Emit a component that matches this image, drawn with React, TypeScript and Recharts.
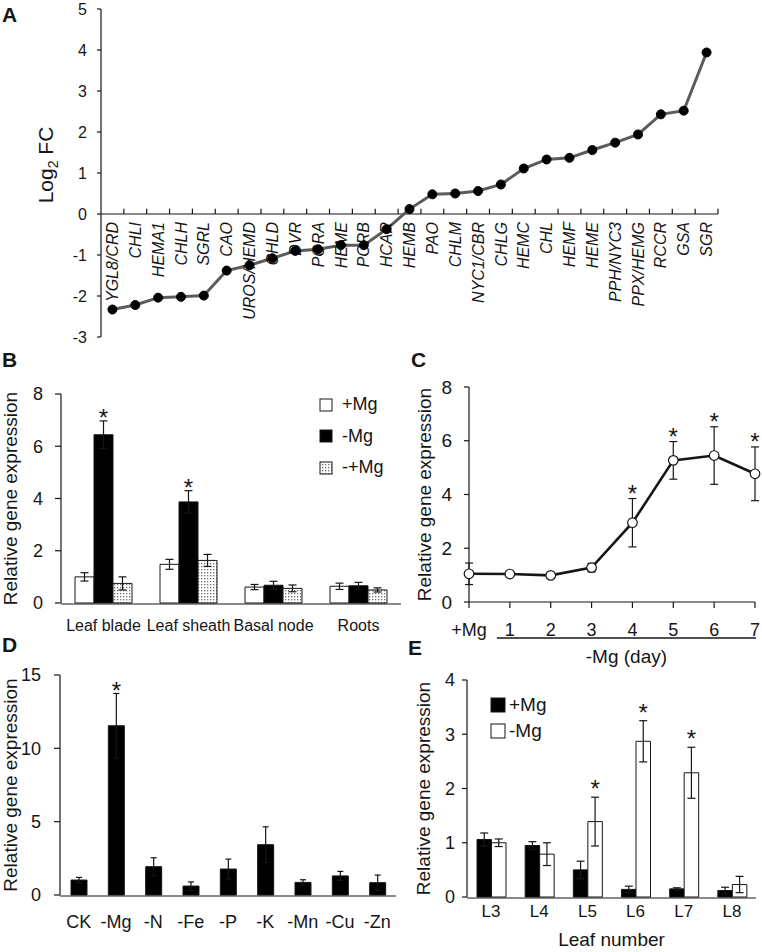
import React from "react";
import {
  LineChart,
  Line,
  BarChart,
  Bar,
  XAxis,
  YAxis,
  ErrorBar,
  LabelList,
  ReferenceLine,
  ReferenceDot,
  Legend,
} from "recharts";

const FONT = "'Liberation Sans', Arial, sans-serif";
const INK = "#161616";

// A: log2 fold change of chlorophyll genes
const genes = [
  "YGL8/CRD", "CHLI", "HEMA1", "CHLH", "SGRL", "CAO", "UROS/HEMD", "CHLD", "DVR",
  "PORA", "HEME", "PORB", "HCAR", "HEMB", "PAO", "CHLM", "NYC1/CBR", "CHLG", "HEMC",
  "CHL", "HEMF", "HEME", "PPH/NYC3", "PPX/HEMG", "RCCR", "GSA", "SGR",
];
const log2fc = [
  -2.33, -2.22, -2.04, -2.02, -1.99, -1.38, -1.25, -1.08, -0.9,
  -0.86, -0.76, -0.76, -0.37, 0.12, 0.48, 0.5, 0.56, 0.72, 1.11,
  1.33, 1.37, 1.56, 1.74, 1.94, 2.43, 2.52, 3.94,
];
const aTicks = [-3, -2, -1, 0, 1, 2, 3, 4, 5];

// B: tissues
const bTissues = ["Leaf blade", "Leaf sheath", "Basal node", "Roots"];
const bPlus = [1.0, 1.48, 0.61, 0.64];
const bPlusErr = [0.16, 0.19, 0.1, 0.12];
const bMinus = [6.44, 3.87, 0.68, 0.66];
const bMinusErr = [0.53, 0.43, 0.15, 0.13];
const bResupply = [0.75, 1.63, 0.56, 0.5];
const bResupplyErr = [0.25, 0.23, 0.13, 0.08];
const bStar = [true, true, false, false];
const bTicks = [0, 2, 4, 6, 8];

// C: time course
const cDays = ["+Mg", "1", "2", "3", "4", "5", "6", "7"];
const cMean = [1.05, 1.04, 0.99, 1.28, 2.95, 5.27, 5.45, 4.77];
const cErr = [0.4, 0.08, 0.06, 0.16, 0.9, 0.7, 1.07, 1.0];
const cStar = [false, false, false, false, true, true, true, true];
const cTicks = [0, 2, 4, 6, 8];

// D: nutrient deficiencies
const dTreat = ["CK", "-Mg", "-N", "-Fe", "-P", "-K", "-Mn", "-Cu", "-Zn"];
const dMean = [1.02, 11.54, 1.93, 0.61, 1.77, 3.43, 0.86, 1.3, 0.84];
const dErr = [0.18, 2.2, 0.61, 0.28, 0.68, 1.22, 0.18, 0.31, 0.52];
const dStar = [false, true, false, false, false, false, false, false, false];
const dTicks = [0, 5, 10, 15];

// E: leaf position
const eLeaves = ["L3", "L4", "L5", "L6", "L7", "L8"];
const ePlus = [1.06, 0.95, 0.5, 0.14, 0.15, 0.12];
const ePlusErr = [0.12, 0.07, 0.16, 0.06, 0.02, 0.06];
const eMinus = [1.0, 0.79, 1.39, 2.87, 2.29, 0.23];
const eMinusErr = [0.07, 0.21, 0.45, 0.38, 0.47, 0.15];
const eStar = [false, false, true, true, true, false];
const eTicks = [0, 1, 2, 3, 4];

const aData = genes.map((g, i) => ({ pos: i + 0.5, gene: g, fc: log2fc[i] }));
const bData = bTissues.map((t, i) => ({
  name: t,
  plus: bPlus[i], plusErr: bPlusErr[i],
  minus: bMinus[i], minusErr: bMinusErr[i],
  resupply: bResupply[i], resupplyErr: bResupplyErr[i],
}));
const cData = cDays.map((d, i) => ({ day: d, mean: cMean[i], err: cErr[i] }));
const dData = dTreat.map((t, i) => ({ name: t, mean: dMean[i], err: dErr[i] }));
const eData = eLeaves.map((l, i) => ({
  name: l,
  plus: ePlus[i], plusErr: ePlusErr[i],
  minus: eMinus[i], minusErr: eMinusErr[i],
}));

const range = (n: number) => Array.from({ length: n + 1 }, (_, i) => i);
const tickFont = (size: number) => ({ fill: INK, fontSize: size, fontFamily: FONT });
const line = { stroke: INK, strokeWidth: 1.2 };

const yTitle = (cx: number, size = 19) => (p: any) => {
  const vb = p.viewBox || { y: 0, height: 0 };
  const cy = vb.y + vb.height / 2;
  return (
    <text transform={`translate(${cx},${cy}) rotate(-90)`} textAnchor="middle"
      fontSize={size} fontFamily={FONT} fill={INK}>
      Relative gene expression
    </text>
  );
};

// asterisk above error bar of a bar; scale
const barStar = (errs: number[], stars: boolean[], lift: number, size: number) => (p: any) => {
  const i = p.index;
  if (!stars[i]) return null;
  const vb = p.viewBox || p;
  const v = Number(p.value);
  const top = vb.y - errs[i] * (vb.height / v);
  return (
    <text x={vb.x + vb.width / 2} y={top + lift} textAnchor="middle" fontSize={size}
      fontFamily={FONT} fill={INK}>*</text>
  );
};

const dotStar = (p: any) => {
  const vb = p.viewBox || { x: 0, y: 0 };
  return (
    <text x={vb.x} y={vb.y + 3} textAnchor="middle" fontSize={24} fontFamily={FONT} fill={INK}>*</text>
  );
};

const geneLabel = (name: string) => (p: any) => {
  const vb = p.viewBox || { x: 0, y: 0 };
  return (
    <text transform={`translate(${vb.x},${vb.y + 8}) rotate(-90)`} textAnchor="end" dy="0.35em"
      fontSize={16} fontStyle="italic" fontFamily={FONT} fill={INK}>
      {name}
    </text>
  );
};

const legendBox = (items: { name: string; fill: string }[], box: number, rowH: number, fs: number, gap: number) => () => (
  <div style={{ fontFamily: FONT, fontSize: fs, color: INK }}>
    {items.map((it) => (
      <div key={it.name} style={{ display: "flex", alignItems: "center", height: rowH, whiteSpace: "nowrap" }}>
        <svg width={box + 2} height={box + 2} style={{ marginRight: gap }}>
          <rect x={1} y={1} width={box} height={box} fill={it.fill} stroke={INK} strokeWidth={1} />
        </svg>
        <span>{it.name}</span>
      </div>
    ))}
  </div>
);

const PanelA = () => (
  <LineChart width={740} height={345} data={aData} margin={{ top: 9, right: 22, bottom: 8, left: 41 }}>
    <XAxis type="number" dataKey="pos" domain={[0, genes.length]} hide />
    <YAxis width={60} domain={[-3, 5]} ticks={aTicks} interval={0} tickSize={4} tickMargin={10}
      tick={tickFont(16)} axisLine={line} tickLine={line}
      label={() => (
        <text transform="translate(53,165) rotate(-90)" textAnchor="middle" fontSize={21}
          fontFamily={FONT} fill={INK}>
          Log<tspan fontSize={14} dy={5}>2</tspan><tspan dy={-5}> FC</tspan>
        </text>
      )} />
    <ReferenceLine y={0} stroke={INK} strokeWidth={1.2} />
    {range(genes.length).slice(1).map((k) => (
      <ReferenceLine key={`tk${k}`} segment={[{ x: k, y: 0 }, { x: k, y: 0.13 }]} stroke={INK} strokeWidth={1.2} />
    ))}
    {genes.map((g, i) => (
      <ReferenceDot key={`g${i}`} x={i + 0.5} y={0} r={0} fill="none" stroke="none" label={geneLabel(g)} />
    ))}
    <Line dataKey="fc" stroke="#5b5b5b" strokeWidth={3}
      dot={{ r: 4.5, fill: "#000", stroke: "#000", strokeWidth: 1 }} isAnimationActive={false} />
  </LineChart>
);

const PanelB = () => (
  <BarChart width={410} height={260} data={bData} barGap={0}
    margin={{ top: 14, right: 9, bottom: 35, left: 26 }}>
    <defs>
      <pattern id="dots" width="3" height="3" patternUnits="userSpaceOnUse">
        <rect width="3" height="3" fill="#fff" />
        <rect width="1.3" height="1.3" fill="#6e6e6e" />
      </pattern>
    </defs>
    <XAxis xAxisId="edge" type="number" domain={[0, bTissues.length]} ticks={range(bTissues.length)}
      allowDataOverflow height={1} tick={false} tickSize={5} tickLine={line} axisLine={line} />
    <XAxis xAxisId="cat" dataKey="name" height={1} axisLine={false} tickLine={false} tickSize={0}
      tickMargin={17} interval={0} tick={tickFont(16)} />
    <YAxis width={35} domain={[0, 8]} ticks={bTicks} interval={0} tickSize={6} tickMargin={12}
      tick={tickFont(18)} axisLine={line} tickLine={line} label={yTitle(17)} />
    <Legend layout="vertical" align="center" verticalAlign="middle" wrapperStyle={{ left: 319, top: 9, width: 90 }}
      content={legendBox([
        { name: "+Mg", fill: "#fff" },
        { name: "-Mg", fill: "#000" },
        { name: "-+Mg", fill: "url(#dots)" },
      ], 12, 31.5, 18, 9)} />
    <Bar xAxisId="cat" dataKey="plus" name="+Mg" fill="#fff" stroke={INK} strokeWidth={1} barSize={19} isAnimationActive={false}>
      <ErrorBar dataKey="plusErr" width={4} stroke={INK} strokeWidth={1.2} />
    </Bar>
    <Bar xAxisId="cat" dataKey="minus" name="-Mg" fill="#000" stroke={INK} strokeWidth={1} barSize={19} isAnimationActive={false}>
      <ErrorBar dataKey="minusErr" width={4} stroke={INK} strokeWidth={1.2} />
      <LabelList dataKey="minus" content={barStar(bMinusErr, bStar, 5, 24)} />
    </Bar>
    <Bar xAxisId="cat" dataKey="resupply" name="-+Mg" fill="url(#dots)" stroke={INK} strokeWidth={1} barSize={19} isAnimationActive={false}>
      <ErrorBar dataKey="resupplyErr" width={4} stroke={INK} strokeWidth={1.2} />
    </Bar>
  </BarChart>
);

const PanelC = () => (
  <LineChart width={382} height={300} data={cData} margin={{ top: 17, right: 7, bottom: 38, left: 49 }}>
    <XAxis dataKey="day" scale="point" padding={{ left: 0, right: 0 }} height={30} interval={0}
      tickSize={6} tickMargin={15} tick={tickFont(18)} axisLine={line} tickLine={line}
      label={(p: any) => {
        const vb = p.viewBox || { x: 0, y: 0, width: 0 };
        const x1 = vb.x + vb.width / (cDays.length - 1) - 13;
        const x2 = vb.x + vb.width + 1;
        return (
          <g>
            <line x1={x1} x2={x2} y1={vb.y + 36} y2={vb.y + 36} stroke={INK} strokeWidth={1.5} />
            <text x={(x1 + x2) / 2} y={vb.y + 61} textAnchor="middle" fontSize={19} fontFamily={FONT} fill={INK}>
              -Mg (day)
            </text>
          </g>
        );
      }} />
    <YAxis width={40} domain={[0, 8]} ticks={cTicks} interval={0} tickSize={5} tickMargin={12}
      tick={tickFont(19)} axisLine={line} tickLine={line} label={yTitle(51)} />
    {cDays.map((d, i) =>
      cStar[i] ? (
        <ReferenceDot key={`s${d}`} x={d} y={cMean[i] + cErr[i]} r={0} fill="none" stroke="none" label={dotStar} />
      ) : null
    )}
    <Line dataKey="mean" stroke={INK} strokeWidth={2.6} isAnimationActive={false}
      dot={{ r: 4.8, fill: "#fff", stroke: INK, strokeWidth: 1.2 }}>
      <ErrorBar dataKey="err" width={4} stroke={INK} strokeWidth={1.2} />
    </Line>
  </LineChart>
);

const PanelD = () => (
  <BarChart width={400} height={292} data={dData} margin={{ top: 15, right: 4, bottom: 55, left: 25 }}>
    <XAxis xAxisId="edge" type="number" domain={[0, dTreat.length]} ticks={range(dTreat.length)}
      allowDataOverflow height={1} tick={false} tickSize={5} tickLine={line} axisLine={line} />
    <XAxis xAxisId="cat" dataKey="name" height={1} axisLine={false} tickLine={false} tickSize={0}
      tickMargin={20} interval={0} tick={tickFont(18)} />
    <YAxis width={35} domain={[0, 15]} ticks={dTicks} interval={0} tickSize={6} tickMargin={13}
      tick={tickFont(18)} axisLine={line} tickLine={line} label={yTitle(17)} />
    <Bar xAxisId="cat" dataKey="mean" fill="#000" stroke={INK} barSize={16} isAnimationActive={false}>
      <ErrorBar dataKey="err" width={3} stroke={INK} strokeWidth={1.2} />
      <LabelList dataKey="mean" content={barStar(dErr, dStar, 6, 24)} />
    </Bar>
  </BarChart>
);

const PanelE = () => (
  <BarChart width={382} height={292} data={eData} barGap={0}
    margin={{ top: 20, right: 6, bottom: 53, left: 47 }}>
    <XAxis xAxisId="edge" type="number" domain={[0, eLeaves.length]} ticks={range(eLeaves.length)}
      allowDataOverflow height={1} tick={false} tickSize={5} tickLine={line} axisLine={line} />
    <XAxis xAxisId="cat" dataKey="name" height={1} axisLine={false} tickLine={false} tickSize={0}
      tickMargin={8} interval={0} tick={tickFont(17)}
      label={(p: any) => {
        const vb = p.viewBox || { x: 0, y: 0, width: 0 };
        return (
          <text x={vb.x + vb.width / 2} y={vb.y + 49} textAnchor="middle" fontSize={19} fontFamily={FONT} fill={INK}>
            Leaf number
          </text>
        );
      }} />
    <YAxis width={40} domain={[0, 4]} ticks={eTicks} interval={0} tickSize={5} tickMargin={7}
      tick={tickFont(18)} axisLine={line} tickLine={line} label={yTitle(50)} />
    <Legend layout="vertical" align="center" verticalAlign="middle" wrapperStyle={{ left: 110, top: 32, width: 90 }}
      content={legendBox([
        { name: "+Mg", fill: "#000" },
        { name: "-Mg", fill: "#fff" },
      ], 14, 26, 19, 3)} />
    <Bar xAxisId="cat" dataKey="plus" name="+Mg" fill="#000" stroke={INK} barSize={14.5} isAnimationActive={false}>
      <ErrorBar dataKey="plusErr" width={4} stroke={INK} strokeWidth={1.2} />
    </Bar>
    <Bar xAxisId="cat" dataKey="minus" name="-Mg" fill="#fff" stroke={INK} barSize={14.5} isAnimationActive={false}>
      <ErrorBar dataKey="minusErr" width={4} stroke={INK} strokeWidth={1.2} />
      <LabelList dataKey="minus" content={barStar(eMinusErr, eStar, 0, 24)} />
    </Bar>
  </BarChart>
);

const Letter = ({ ch, x, y }: { ch: string; x: number; y: number }) => (
  <div style={{ position: "absolute", left: x, top: y, fontSize: 21, fontWeight: "bold", lineHeight: 1, color: INK }}>
    {ch}
  </div>
);

const at = (x: number, y: number): React.CSSProperties => ({ position: "absolute", left: x, top: y });

export default function App() {
  return (
    <div style={{ position: "absolute", left: 0, top: 0, width: 762, height: 952, background: "#fff", fontFamily: FONT, overflow: "hidden" }}>
      <div style={at(0, 0)}><PanelA /></div>
      <div style={at(0, 380)}><PanelB /></div>
      <div style={at(380, 370)}><PanelC /></div>
      <div style={at(0, 660)}><PanelD /></div>
      <div style={at(380, 660)}><PanelE /></div>
      <Letter ch="A" x={2} y={4} />
      <Letter ch="B" x={2} y={349} />
      <Letter ch="C" x={411} y={349} />
      <Letter ch="D" x={2} y={634} />
      <Letter ch="E" x={408} y={637} />
    </div>
  );
}
